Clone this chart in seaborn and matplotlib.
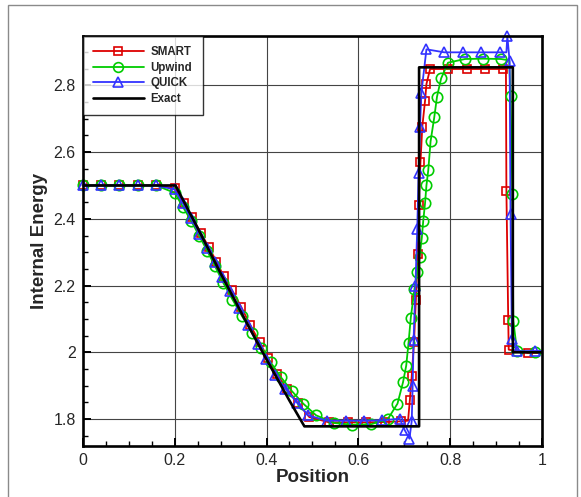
import matplotlib
matplotlib.use("Agg")
import matplotlib.pyplot as plt
import seaborn as sns
from matplotlib.lines import Line2D
from matplotlib.patches import Rectangle
from matplotlib.ticker import MultipleLocator, FuncFormatter

# values (Sod tube, internal energy)
smart_x = [0, 0.04, 0.08, 0.12, 0.16, 0.2, 0.22, 0.238, 0.257, 0.274, 0.291, 0.307,
           0.325, 0.345, 0.364, 0.385, 0.403, 0.423, 0.445, 0.468, 0.493, 0.536, 0.577,
           0.617, 0.657, 0.692, 0.708, 0.712, 0.716, 0.721, 0.725, 0.729, 0.731, 0.735,
           0.739, 0.745, 0.748, 0.756, 0.796, 0.836, 0.876, 0.915, 0.921, 0.922, 0.926,
           0.927, 0.968, 1.0]
smart_y = [2.5, 2.5, 2.5, 2.5, 2.5, 2.492, 2.448, 2.404, 2.358, 2.316, 2.272, 2.228,
           2.186, 2.136, 2.083, 2.03, 1.983, 1.934, 1.89, 1.848, 1.806, 1.79, 1.79,
           1.79, 1.791, 1.793, 1.795, 1.858, 1.928, 2.031, 2.156, 2.296, 2.441, 2.569,
           2.676, 2.754, 2.804, 2.849, 2.849, 2.849, 2.849, 2.849, 2.849, 2.484, 2.097,
           2.008, 1.998, 1.998]
smart_plain = [26, 42, 47]

upwind_x = [0, 0.04, 0.08, 0.12, 0.16, 0.2, 0.218, 0.236, 0.254, 0.271, 0.288, 0.306,
            0.326, 0.347, 0.369, 0.389, 0.409, 0.431, 0.455, 0.48, 0.508, 0.547, 0.587,
            0.627, 0.664, 0.685, 0.697, 0.704, 0.709, 0.714, 0.722, 0.728, 0.733, 0.738,
            0.741, 0.745, 0.748, 0.752, 0.757, 0.765, 0.771, 0.78, 0.795, 0.832, 0.871,
            0.91, 0.928, 0.931, 0.935, 0.937, 0.945, 0.985, 1.0]
upwind_y = [2.5, 2.5, 2.5, 2.5, 2.5, 2.478, 2.436, 2.394, 2.348, 2.304, 2.258, 2.208,
            2.158, 2.108, 2.058, 2.014, 1.97, 1.926, 1.884, 1.846, 1.811, 1.788, 1.783,
            1.784, 1.8, 1.846, 1.91, 1.96, 2.028, 2.104, 2.19, 2.24, 2.285, 2.344,
            2.393, 2.447, 2.5, 2.546, 2.632, 2.704, 2.766, 2.821, 2.868, 2.879, 2.88,
            2.879, 2.875, 2.767, 2.473, 2.095, 2.005, 2.0, 2.0]
upwind_plain = [46, 52]

quick_x = [0, 0.04, 0.08, 0.12, 0.16, 0.2, 0.218, 0.236, 0.254, 0.271, 0.287, 0.303,
           0.321, 0.341, 0.359, 0.381, 0.399, 0.419, 0.441, 0.467, 0.491, 0.531, 0.572,
           0.612, 0.652, 0.69, 0.701, 0.711, 0.716, 0.718, 0.72, 0.724, 0.728, 0.731,
           0.734, 0.737, 0.748, 0.787, 0.827, 0.867, 0.907, 0.922, 0.924, 0.929, 0.931,
           0.934, 0.946, 0.985, 1.0]
quick_y = [2.5, 2.5, 2.5, 2.5, 2.5, 2.488, 2.446, 2.401, 2.356, 2.314, 2.271, 2.226,
           2.184, 2.134, 2.081, 2.026, 1.981, 1.931, 1.891, 1.848, 1.811, 1.795, 1.795,
           1.795, 1.796, 1.801, 1.766, 1.741, 1.794, 1.9, 2.036, 2.198, 2.371, 2.538,
           2.676, 2.778, 2.908, 2.899, 2.899, 2.899, 2.899, 2.899, 2.948, 2.872, 2.413,
           2.04, 2.003, 2.004, 2.004]
quick_plain = [41, 48]

exact_x = [0, 0.202, 0.25, 0.3, 0.35, 0.4, 0.45, 0.4825, 0.732, 0.732, 0.936, 0.936, 1.0]
exact_y = [2.5, 2.5, 2.373, 2.237, 2.106, 1.979, 1.855, 1.778, 1.778, 2.854, 2.854, 2.0, 2.0]

names = ["SMART", "Upwind", "QUICK", "Exact"]
colors = ["#dd0000", "#00cc00", "#3333ff", "black"]
markers = ["s", "o", "^", None]
msizes = [6, 7.5, 7]

sns.set_theme(style="white")
plt.rcParams["font.family"] = ["Liberation Sans", "DejaVu Sans"]

fig = plt.figure(figsize=(5.81, 4.97), dpi=100)
ax = fig.add_axes([0.1423, 0.1032, 0.791, 0.8244])

series = [(smart_x, smart_y, smart_plain),
          (upwind_x, upwind_y, upwind_plain),
          (quick_x, quick_y, quick_plain)]
for i, (xs, ys, plain) in enumerate(series):
    keep = [k for k in range(len(xs)) if k not in plain]
    sns.lineplot(x=xs, y=ys, ax=ax, sort=False, estimator=None, color=colors[i],
                 lw=1.3, marker=markers[i], markevery=keep, markersize=msizes[i],
                 markerfacecolor="none", markeredgecolor=colors[i],
                 markeredgewidth=1.2, clip_on=False, zorder=3 + i)
sns.lineplot(x=exact_x, y=exact_y, ax=ax, sort=False, estimator=None,
             color="black", lw=1.9, zorder=7)

ax.set_xlim(0, 1)
ax.set_ylim(1.72, 2.948)
ax.xaxis.set_major_locator(MultipleLocator(0.2))
ax.xaxis.set_minor_locator(MultipleLocator(0.05))
ax.yaxis.set_major_locator(MultipleLocator(0.2))
ax.yaxis.set_minor_locator(MultipleLocator(0.05))
fmt = FuncFormatter(lambda v, p: f"{v:g}")
ax.xaxis.set_major_formatter(fmt)
ax.yaxis.set_major_formatter(fmt)

ax.grid(True, which="major", color="#444444", lw=0.8)
ax.set_axisbelow(True)
for s in ax.spines.values():
    s.set_color("black")
    s.set_linewidth(1.9)
    s.set_zorder(8)

ax.tick_params(axis="both", which="major", direction="in", length=6, width=1.4,
               color="black", labelsize=11.5, pad=5, left=True, bottom=True)
ax.tick_params(axis="both", which="minor", direction="in", length=3.5, width=1,
               color="black", left=True, bottom=True)

ax.set_xlabel("Position", fontsize=13.5, fontweight="bold", labelpad=1)
ax.set_ylabel("Internal Energy", fontsize=13.5, fontweight="bold", labelpad=4)

handles = []
for i in range(3):
    handles.append(Line2D([0], [0], color=colors[i], lw=1.3, marker=markers[i],
                          markersize=msizes[i] - 0.5, markerfacecolor="none",
                          markeredgecolor=colors[i], markeredgewidth=1.2,
                          label=names[i]))
handles.append(Line2D([0], [0], color="black", lw=1.9, label="Exact"))
leg = ax.legend(handles=handles, loc="upper left", bbox_to_anchor=(0, 1),
                borderaxespad=0, frameon=True, fancybox=False, numpoints=1,
                prop={"weight": "bold", "size": 8.3}, handlelength=4.4,
                handletextpad=0.6, labelspacing=0.3, borderpad=0.9)
leg.get_frame().set_edgecolor("black")
leg.get_frame().set_linewidth(1.0)
leg.set_zorder(10)

# thin grey outer border like the original export
fig.patches.append(Rectangle((8 / 581, -0.01), 569 / 581, 492 / 497 + 0.01,
                             transform=fig.transFigure, fill=False,
                             edgecolor="#8a8a8a", lw=1))

plt.savefig("out.png", dpi=100)
